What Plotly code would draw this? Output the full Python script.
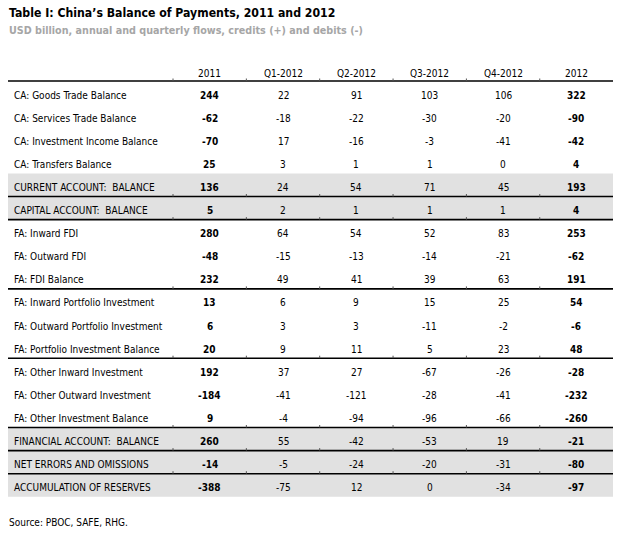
import plotly.graph_objects as go

titulo = "Table I: China\u2019s Balance of Payments, 2011 and 2012"
subtitulo = "USD billion, annual and quarterly flows, credits (+) and debits (-)"
fuente = "Source: PBOC, SAFE, RHG."

columnas = ["2011", "Q1-2012", "Q2-2012", "Q3-2012", "Q4-2012", "2012"]

filas = [
    "CA: Goods Trade Balance",
    "CA: Services Trade Balance",
    "CA: Investment Income Balance",
    "CA: Transfers Balance",
    "CURRENT ACCOUNT:  BALANCE",
    "CAPITAL ACCOUNT:  BALANCE",
    "FA: Inward FDI",
    "FA: Outward FDI",
    "FA: FDI Balance",
    "FA: Inward Portfolio Investment",
    "FA: Outward Portfolio Investment",
    "FA: Portfolio Investment Balance",
    "FA: Other Inward Investment",
    "FA: Other Outward Investment",
    "FA: Other Investment Balance",
    "FINANCIAL ACCOUNT:  BALANCE",
    "NET ERRORS AND OMISSIONS",
    "ACCUMULATION OF RESERVES",
]

v_2011 = [244, -62, -70, 25, 136, 5, 280, -48, 232, 13, 6, 20, 192, -184, 9, 260, -14, -388]
v_q1 = [22, -18, 17, 3, 24, 2, 64, -15, 49, 6, 3, 9, 37, -41, -4, 55, -5, -75]
v_q2 = [91, -22, -16, 1, 54, 1, 54, -13, 41, 9, 3, 11, 27, -121, -94, -42, -24, 12]
v_q3 = [103, -30, -3, 1, 71, 1, 52, -14, 39, 15, -11, 5, -67, -28, -96, -53, -20, 0]
v_q4 = [106, -20, -41, 0, 45, 1, 83, -21, 63, 25, -2, 23, -26, -41, -66, 19, -31, -34]
v_2012 = [322, -90, -42, 4, 193, 4, 253, -62, 191, 54, -6, 48, -28, -232, -260, -21, -80, -97]

valores = [v_2011, v_q1, v_q2, v_q3, v_q4, v_2012]

# filas sombreadas y filas con linea debajo
sombreadas = [4, 5, 15, 16, 17]
lineas_debajo = [4, 5, 8, 11, 14, 15, 16]
anuales = [0, 5]

# geometria (pixeles de la imagen)
FONT = "DejaVu Sans Condensed, Liberation Sans Narrow, sans-serif"
X0, X1 = 8, 613
TOP = 81
ALTO = 23.1
COL0 = 209.7
PASO = 73.35
TICK0 = 173

fig = go.Figure()

shapes = []
for i in sombreadas:
    shapes.append(dict(type="rect", xref="x", yref="y", x0=X0, x1=X1,
                       y0=TOP + ALTO * i, y1=TOP + ALTO * (i + 1),
                       fillcolor="#e1e1e1", line=dict(width=0), layer="below"))

lineas_y = [TOP] + [TOP + ALTO * (i + 1) for i in lineas_debajo]
for y in lineas_y:
    shapes.append(dict(type="line", xref="x", yref="y", x0=X0, x1=X1, y0=y, y1=y,
                       line=dict(color="black", width=1.6)))
    for k in range(len(columnas)):
        xt = TICK0 + PASO * k
        shapes.append(dict(type="line", xref="x", yref="y", x0=xt, x1=xt,
                           y0=y - 2.5, y1=y, line=dict(color="#555555", width=1)))

anots = []
anots.append(dict(text="<b>" + titulo + "</b>", x=7, y=12.5, xanchor="left", yanchor="middle",
                  font=dict(family=FONT, size=12.2, color="black")))
anots.append(dict(text="<b>" + subtitulo + "</b>", x=7, y=30, xanchor="left", yanchor="middle",
                  font=dict(family=FONT, size=10.7, color="#a6a6a6")))
anots.append(dict(text=fuente, x=7, y=522, xanchor="left", yanchor="middle",
                  font=dict(family=FONT, size=10, color="black")))

for k, c in enumerate(columnas):
    anots.append(dict(text=c, x=COL0 + PASO * k, y=73, xanchor="center", yanchor="middle",
                      font=dict(family=FONT, size=10, color="black")))

for i, nombre in enumerate(filas):
    yc = TOP + ALTO * i + 14
    anots.append(dict(text=nombre, x=12, y=yc, xanchor="left", yanchor="middle",
                      font=dict(family=FONT, size=10, color="black")))
    for k, serie in enumerate(valores):
        txt = str(serie[i])
        if k in anuales:
            txt = "<b>" + txt + "</b>"
        anots.append(dict(text=txt, x=COL0 + PASO * k, y=yc, xanchor="center", yanchor="middle",
                          font=dict(family=FONT, size=10, color="black")))

for a in anots:
    a.update(xref="x", yref="y", showarrow=False)

fig.update_layout(
    width=620,
    height=539,
    margin=dict(l=0, r=0, t=0, b=0),
    paper_bgcolor="white",
    plot_bgcolor="white",
    xaxis=dict(range=[0, 620], visible=False, fixedrange=True),
    yaxis=dict(range=[539, 0], visible=False, fixedrange=True),
    shapes=shapes,
    annotations=anots,
    showlegend=False,
)

# quitar el margen del body para que la figura ocupe toda la ventana
fig.write_html(
    "out.html",
    config={"displayModeBar": False},
    post_script="document.body.style.margin='0px';",
)
